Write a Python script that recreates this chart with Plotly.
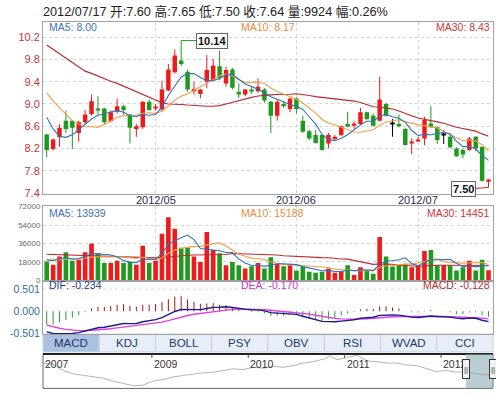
import plotly.graph_objects as go

# ---------------- data ----------------
opens  = [8.45, 8.19, 8.40, 8.70, 8.70, 8.48, 8.67, 8.82, 8.92, 8.92,
          8.69, 8.86, 8.96, 8.81, 8.55, 8.58, 9.04, 8.92, 8.90, 9.24,
          9.57, 9.78, 9.58, 9.23, 9.18, 9.40, 9.43, 9.68, 9.37, 9.62,
          9.22, 9.17, 9.25, 9.23, 9.26, 9.04, 8.79, 9.00, 8.91, 9.10,
          8.70, 8.51, 8.44, 8.44, 8.29, 8.37, 8.44, 8.64, 8.61, 8.64,
          8.85, 8.79, 8.70, 9.00, 8.64, 8.64, 8.55, 8.30, 8.34, 8.38,
          8.65, 8.58, 8.44, 8.41, 8.20, 8.17, 8.17, 8.41, 8.23, 7.60]
highs  = [8.46, 8.38, 8.64, 8.88, 8.71, 8.70, 8.89, 9.17, 9.14, 8.93,
          8.88, 9.10, 8.98, 8.82, 8.64, 9.05, 9.08, 9.00, 9.42, 9.72,
          9.98, 10.14, 9.62, 9.40, 9.27, 9.88, 9.81, 9.96, 9.67, 9.65,
          9.37, 9.27, 9.31, 9.46, 9.29, 9.06, 9.08, 9.05, 9.11, 9.12,
          8.79, 8.54, 8.53, 8.46, 8.48, 8.44, 8.61, 8.86, 8.69, 8.93,
          8.86, 8.83, 9.49, 9.02, 8.73, 8.81, 8.57, 8.38, 8.41, 8.77,
          8.96, 8.60, 8.53, 8.47, 8.22, 8.20, 8.41, 8.42, 8.23, 7.65]
lows   = [8.04, 8.16, 8.23, 8.48, 8.19, 8.32, 8.64, 8.79, 8.81, 8.64,
          8.67, 8.83, 8.81, 8.29, 8.41, 8.55, 8.88, 8.88, 8.86, 9.23,
          9.55, 9.68, 9.22, 9.17, 9.10, 9.29, 9.41, 9.43, 9.31, 9.26,
          9.11, 9.14, 9.18, 9.20, 9.02, 8.48, 8.70, 8.93, 8.85, 8.83,
          8.48, 8.35, 8.29, 8.16, 8.20, 8.35, 8.42, 8.58, 8.55, 8.63,
          8.71, 8.60, 8.69, 8.77, 8.41, 8.58, 8.25, 8.10, 8.32, 8.26,
          8.57, 8.28, 8.28, 8.20, 8.05, 8.02, 8.16, 8.15, 7.60, 7.50]
closes = [8.17, 8.36, 8.57, 8.55, 8.57, 8.67, 8.81, 9.05, 8.89, 8.67,
          8.85, 8.96, 8.89, 8.57, 8.60, 9.04, 8.89, 8.95, 9.26, 9.62,
          9.87, 9.72, 9.26, 9.27, 9.26, 9.61, 9.69, 9.46, 9.61, 9.29,
          9.17, 9.26, 9.23, 9.31, 9.06, 8.79, 9.04, 8.96, 9.10, 8.91,
          8.50, 8.38, 8.30, 8.17, 8.44, 8.41, 8.60, 8.61, 8.65, 8.85,
          8.73, 8.61, 9.08, 8.79, 8.64, 8.60, 8.26, 8.32, 8.36, 8.71,
          8.58, 8.35, 8.44, 8.22, 8.06, 8.09, 8.38, 8.20, 7.62, 7.64]
volumes = [18480, 15290, 23260, 27400, 19110, 20070, 27400, 36000, 26440, 16880,
           16880, 19110, 16880, 18480, 15290, 33770, 16880, 19110, 45560, 61490,
           50340, 31860, 31860, 23260, 17840, 47150, 29630, 26440, 14650, 17840,
           14650, 11470, 13700, 16880, 11470, 22620, 15930, 13700, 14650, 9560,
           13060, 8280, 7330, 8280, 11470, 7330, 8920, 14650, 5100, 12740,
           9880, 6370, 42370, 23260, 13380, 14650, 16250, 12740, 14650, 28670,
           29630, 14650, 14650, 14650, 9560, 12740, 19110, 9560, 20070, 9924]

ma5_head  = [8.76, 8.55, 8.42, 8.40]
ma10_head = [9.20, 9.05, 8.93, 8.81, 8.70, 8.64, 8.60, 8.59, 8.58]
ma30_head = [10.06, 9.98, 9.90, 9.83, 9.75, 9.67, 9.59, 9.55, 9.50, 9.46,
             9.41, 9.37, 9.32, 9.27, 9.22, 9.17, 9.12, 9.07, 9.02, 9.00,
             9.00, 8.99, 8.98, 8.97, 8.97, 8.96, 8.96, 8.97, 9.00]
vma5_head  = [20100, 19100, 21000, 22300]
vma10_head = [20000, 19800, 20000, 20500, 20800, 21200, 21800, 22600, 23000]
vma30_head = [25500, 25300, 25100, 24900, 24700, 24500, 24300, 24100, 23900, 23600,
              23300, 23000, 22700, 22400, 22100, 21900, 21800, 21900, 22300, 23000,
              23700, 24200, 24500, 24700, 24800, 25000, 25100, 25200, 25200]
# MACD state on the day before the window (estimated from the first DIF/DEA)
ema12_seed, ema26_seed, dea_seed = 9.45, 9.85, -0.28

month_idx = [17, 39, 58]
month_labels = ["2012/05", "2012/06", "2012/07"]
price_ticks = [7.4, 7.8, 8.2, 8.6, 9.0, 9.4, 9.8, 10.2]
vol_ticks = [0, 18000, 36000, 54000, 72000]
macd_ticks = [-0.501, 0.0, 0.501]
macd_ticklabels = ["-0.501", "0.000", "0.501"]

header_text = "2012/07/17 开:7.60 高:7.65 低:7.50 收:7.64 量:9924 幅:0.26%"
price_ma_labels = ["MA5: 8.00", "MA10: 8.17", "MA30: 8.43"]
vol_ma_labels = ["MA5: 13939", "MA10: 15188", "MA30: 14451"]
macd_labels = ["DIF: -0.234", "DEA: -0.170", "MACD: -0.128"]
tabs = ["MACD", "KDJ", "BOLL", "PSY", "OBV", "RSI", "WVAD", "CCI"]

nav_years = [2007.87, 2007.97, 2008.08, 2008.18, 2008.29, 2008.39, 2008.49, 2008.60,
             2008.70, 2008.81, 2008.91, 2009.01, 2009.12, 2009.22, 2009.33, 2009.43,
             2009.53, 2009.64, 2009.74, 2009.84, 2009.95, 2010.05, 2010.16, 2010.26,
             2010.36, 2010.47, 2010.57, 2010.67, 2010.78, 2010.85, 2010.92, 2011.02,
             2011.13, 2011.23, 2011.33, 2011.44, 2011.54, 2011.64, 2011.75, 2011.85,
             2011.95, 2012.06, 2012.16, 2012.26, 2012.37, 2012.47, 2012.54]
nav_levels = [78, 75, 55, 45, 40, 35, 32, 22, 15, 8, 10, 22, 28, 35, 40, 45,
              48, 50, 55, 60, 58, 65, 62, 68, 65, 70, 78, 82, 90, 100, 88, 95,
              102, 85, 82, 78, 78, 72, 70, 60, 52, 55, 50, 52, 44, 42, 38]
nav_tick_years = [2007.87, 2009, 2010, 2011, 2012]
nav_tick_labels = ["2007", "2009", "2010", "2011", "2012"]
window_years = [2012.26, 2012.54]

# ---------------- derived series ----------------
n = len(closes)
idx = list(range(n))

def moving(vals, k, head):
    out = list(head)
    for i in range(len(head), len(vals)):
        out.append(sum(vals[i - k + 1:i + 1]) / k)
    return out

ma5, ma10, ma30 = moving(closes, 5, ma5_head), moving(closes, 10, ma10_head), moving(closes, 30, ma30_head)
vma5, vma10, vma30 = moving(volumes, 5, vma5_head), moving(volumes, 10, vma10_head), moving(volumes, 30, vma30_head)

dif, dea, hist = [], [], []
e12, e26, d = ema12_seed, ema26_seed, dea_seed
for c in closes:
    e12 += (c - e12) * 2 / 13
    e26 += (c - e26) * 2 / 27
    df = e12 - e26
    d += (df - d) * 2 / 10
    dif.append(df); dea.append(d); hist.append(2 * (df - d))

UP, DN, FLAT = "#ec1c1c", "#1e9a1e", "#000000"
ccol = [UP if c > o else (DN if c < o else FLAT) for o, c in zip(opens, closes)]
vcol = []
for i in idx:
    if ccol[i] != FLAT:
        vcol.append(ccol[i])
    else:
        vcol.append(UP if closes[i] >= closes[i - 1] else DN)

# ---------------- figure ----------------
W, H = 496, 398
FONT = "Liberation Sans, Arial, Noto Sans CJK SC, sans-serif"
X0, X1 = 43, 493
def px(x): return x / W
def py(y): return 1 - y / H

fig = go.Figure()

# wicks
for col in (UP, DN, FLAT):
    xs, ys = [], []
    for i in idx:
        if ccol[i] == col:
            xs += [i, i, None]; ys += [lows[i], highs[i], None]
    fig.add_trace(go.Scatter(x=xs, y=ys, mode="lines", line=dict(color=col, width=1),
                             xaxis="x", yaxis="y", hoverinfo="skip"))
# bodies
fig.add_trace(go.Bar(x=idx, y=[max(abs(c - o), 0.02) for o, c in zip(opens, closes)],
                     base=[min(o, c) for o, c in zip(opens, closes)],
                     marker=dict(color=ccol, line=dict(width=0)), width=0.7,
                     xaxis="x", yaxis="y", hoverinfo="skip"))
for vals, col in ((ma30, "#b8282e"), (ma10, "#f0a04a"), (ma5, "#2f72b8")):
    fig.add_trace(go.Scatter(x=idx, y=vals, mode="lines", line=dict(color=col, width=1.1),
                             xaxis="x", yaxis="y", hoverinfo="skip"))

# volume
fig.add_trace(go.Bar(x=idx, y=volumes, marker=dict(color=vcol, line=dict(width=0)), width=0.72,
                     xaxis="x2", yaxis="y2", hoverinfo="skip"))
for vals, col in ((vma30, "#c0282e"), (vma10, "#f0a04a"), (vma5, "#2f72b8")):
    fig.add_trace(go.Scatter(x=idx, y=vals, mode="lines", line=dict(color=col, width=1.1),
                             xaxis="x2", yaxis="y2", hoverinfo="skip"))

# MACD
for sign, col in ((1, "#9a1a1a"), (-1, "#2e9a2e")):
    xs, ys = [], []
    for i in idx:
        if hist[i] * sign > 0:
            xs += [i, i, None]; ys += [0, hist[i], None]
    fig.add_trace(go.Scatter(x=xs, y=ys, mode="lines", line=dict(color=col, width=1),
                             xaxis="x3", yaxis="y3", hoverinfo="skip"))
fig.add_trace(go.Scatter(x=idx, y=dea, mode="lines", line=dict(color="#e040e0", width=1.4),
                         xaxis="x3", yaxis="y3", hoverinfo="skip"))
fig.add_trace(go.Scatter(x=idx, y=dif, mode="lines", line=dict(color="#1c1c8c", width=1.4),
                         xaxis="x3", yaxis="y3", hoverinfo="skip"))

# navigator
fig.add_trace(go.Scatter(x=nav_years, y=nav_levels, mode="lines", line=dict(color="#b4b4b4", width=1),
                         xaxis="x4", yaxis="y4", hoverinfo="skip"))

xr = [-0.58, 69.7]
common_x = dict(range=xr, showline=True, mirror=True, linecolor="#a0a0a0", linewidth=1,
                zeroline=False, fixedrange=True, domain=[px(X0), px(X1)])
grid = dict(showgrid=True, gridcolor="#d4d4d4", griddash="dot", gridwidth=1)

fig.update_layout(
    width=W, height=H, margin=dict(l=0, r=0, t=0, b=0),
    paper_bgcolor="white", plot_bgcolor="white", showlegend=False, barmode="overlay",
    font=dict(family=FONT),
    xaxis=dict(**common_x, anchor="y", tickvals=month_idx, showticklabels=False, ticks="", **grid),
    xaxis2=dict(**common_x, anchor="y2", matches="x", tickvals=month_idx, showticklabels=False,
                ticks="", **grid),
    xaxis3=dict(**common_x, anchor="y3", matches="x", showticklabels=False, showgrid=False, ticks=""),
    xaxis4=dict(range=[nav_tick_years[0], window_years[1]], domain=[px(X0), px(X1)], anchor="y4",
                showline=False, showgrid=False, showticklabels=False, zeroline=False, ticks=""),
    yaxis=dict(domain=[py(194), py(18)], range=[7.388, 10.481], tickvals=price_ticks,
               ticktext=[f"{v:.1f}" for v in price_ticks], ticks="",
               tickfont=dict(size=11, color="#c83232"), showline=True, mirror=True,
               linecolor="#a0a0a0", zeroline=False, **grid),
    yaxis2=dict(domain=[py(283), py(207)], range=[-290, 72290], tickvals=vol_ticks,
                ticktext=[str(v) for v in vol_ticks], ticks="",
                tickfont=dict(size=8, color="#6a6a6a"), showline=True, mirror=True,
                linecolor="#a0a0a0", zeroline=False, **grid),
    yaxis3=dict(domain=[py(337.7), py(283)], range=[-0.521, 0.697], tickvals=macd_ticks,
                ticktext=macd_ticklabels, ticks="", tickfont=dict(size=10.5, color="#2f6f96"),
                showline=True, mirror=True, linecolor="#a0a0a0", zeroline=False, showgrid=False),
    yaxis4=dict(domain=[py(393.3), py(357.7)], range=[0, 107], anchor="x4", showline=False,
                showgrid=False, showticklabels=False, zeroline=False),
)

# MACD dotted top gridline
fig.add_shape(type="line", xref="paper", yref="y3", x0=px(X0), x1=px(X1),
              y0=macd_ticks[2], y1=macd_ticks[2], line=dict(color="#d4d4d4", width=1, dash="dot"))

# month labels between price and volume panels
for mi, ml in zip(month_idx, month_labels):
    fig.add_annotation(x=mi, y=py(201), xref="x", yref="paper", text=ml, showarrow=False,
                       xanchor="center", yanchor="middle",
                       font=dict(size=11, color="#1f2d50", family=FONT))

def ann(text, x, y, xanchor="left", size=11, color="#333", **kw):
    fig.add_annotation(text=text, x=px(x), y=py(y), xref="paper", yref="paper",
                       xanchor=xanchor, yanchor="middle", showarrow=False,
                       font=dict(size=size, color=color, family=FONT), **kw)

ann(header_text, 41, 8, size=12.7, color="#222")
lab_cols = ["#3c74b4", "#e88c40", "#d03434"]
for labels, yy in ((price_ma_labels, 24), (vol_ma_labels, 214.3)):
    ann(labels[0], 47, yy, color=lab_cols[0], size=10.5)
    ann(labels[1], 239, yy, color=lab_cols[1], size=10.5)
    ann(labels[2], 492, yy, xanchor="right", color=lab_cols[2], size=10.5)
mcols = ["#1f3a8a", "#cc33cc", "#b03030"]
ann(macd_labels[0], 47, 287.5, color=mcols[0], size=10.5)
ann(macd_labels[1], 239, 287.5, color=mcols[1], size=10.5)
ann(macd_labels[2], 492, 287.5, xanchor="right", color=mcols[2], size=10.5)

# highest / lowest markers
imax = highs.index(max(highs)); imin = lows.index(min(lows))
fig.add_annotation(x=imax, y=highs[imax], xref="x", yref="y", text=f"<b>{highs[imax]:.2f}</b>",
                   showarrow=True, arrowhead=0, arrowwidth=1, arrowcolor=ccol[imax], ax=31, ay=0,
                   standoff=0, bordercolor="#666", borderwidth=1, borderpad=1, bgcolor="white",
                   font=dict(size=11, color="#111", family=FONT))
fig.add_annotation(x=imin, y=lows[imin], xref="x", yref="y", text=f"<b>{lows[imin]:.2f}</b>",
                   showarrow=True, arrowhead=0, arrowwidth=1, arrowcolor=ccol[imin], ax=-25, ay=2,
                   standoff=0, bordercolor="#666", borderwidth=1, borderpad=1, bgcolor="white",
                   font=dict(size=11, color="#111", family=FONT))

# tab bar
tw = (X1 - X0) / len(tabs)
for k, name in enumerate(tabs):
    xa = X0 + k * tw
    fig.add_shape(type="rect", xref="paper", yref="paper", x0=px(xa), x1=px(xa + tw),
                  y0=py(356), y1=py(337.7), line=dict(color="#c6d3e6", width=1),
                  fillcolor="#abc1e0" if k == 0 else "#e7eef8", layer="below")
    ann(name, xa + tw / 2, 347, xanchor="center", size=11.5, color="#213a66")

# navigator frame, ticks, selection
fig.add_shape(type="rect", xref="paper", yref="paper", x0=px(X0), x1=px(X1),
              y0=py(393.3), y1=py(357.7), line=dict(color="#666", width=1))
fig.add_shape(type="line", xref="paper", yref="paper", x0=px(X0), x1=px(X1),
              y0=py(358), y1=py(358), line=dict(color="#222", width=2))
for yv, lab in zip(nav_tick_years, nav_tick_labels):
    if yv > nav_tick_years[0]:
        fig.add_shape(type="line", xref="x4", yref="paper", x0=yv, x1=yv, y0=py(358), y1=py(362),
                      line=dict(color="#444", width=1))
    fig.add_annotation(x=yv, y=py(368.5), xref="x4", yref="paper", text=lab, showarrow=False,
                       xanchor="left", yanchor="middle", font=dict(size=10.5, color="#333", family=FONT))
fig.add_shape(type="rect", xref="x4", yref="paper", x0=window_years[0], x1=window_years[1],
              y0=py(393.3), y1=py(358), fillcolor="#7fa4ae", opacity=0.55, line=dict(width=0),
              layer="above")
for yv in window_years:
    fig.add_annotation(x=yv, y=py(373), xref="x4", yref="paper", text="||", showarrow=False,
                       xanchor="center", yanchor="middle", bgcolor="#f2f2f2", bordercolor="#333",
                       borderwidth=1, borderpad=0, width=6, height=18,
                       font=dict(size=8, color="#333", family=FONT))

fig.write_html("out.html")
